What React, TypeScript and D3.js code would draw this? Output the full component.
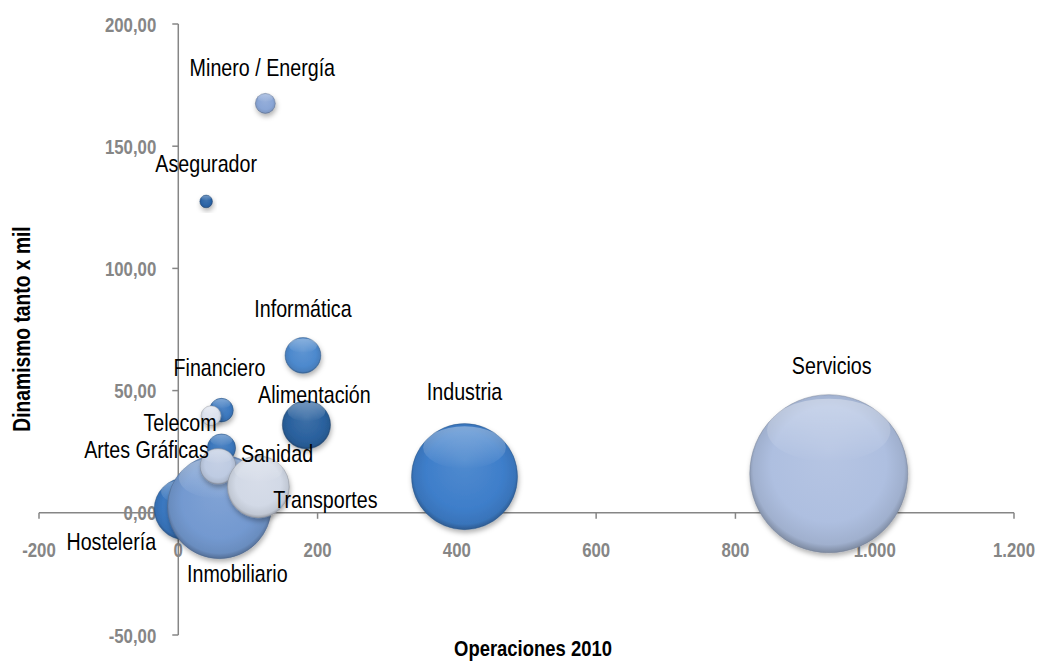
import React from "react";
import * as d3 from "d3";

// ---- data ----
const sectors = [
  "Alimentación",
  "Artes Gráficas",
  "Asegurador",
  "Financiero",
  "Hostelería",
  "Industria",
  "Informática",
  "Inmobiliario",
  "Minero / Energía",
  "Sanidad",
  "Servicios",
  "Telecom",
  "Transportes",
];
const operaciones2010 = [184, 62, 40, 62, 10, 411, 179, 59, 125, 57, 934, 47, 115];
const dinamismo = [36, 26.5, 127.4, 42, 1.6, 14.8, 64.4, 2.5, 167.5, 19, 16, 39.7, 10.6];
const bubbleSize = [58, 20, 4, 14, 96, 281, 32, 270, 10, 32, 624, 10, 96];

const xTicks = [-200, 0, 200, 400, 600, 800, 1000, 1200];
const yTicks = [-50, 0, 50, 100, 150, 200];

// ---- styles / layout ----
const colors = [
  "#2A619E", "#3B77BD", "#2B64A6", "#3C79C0", "#3A78C1", "#3E7ECA", "#4D89CD",
  "#7399D0", "#8AA6D6", "#BECBE2", "#AEBFE0", "#DCE2EE", "#D2D9E6",
];
// label offset (px) from bubble centre to label baseline centre
const labelOffsets: [number, number][] = [
  [8, -22], [-75, 10], [0, -29], [-2, -34], [-74, 41], [0, -77], [0, -38],
  [18, 75], [-3, -27], [59, -4], [3, -100], [-31, 15], [67, 21],
];

const W = 1040;
const H = 666;
const FONT = "'Liberation Sans', Arial, sans-serif";
const NARROW = 0.82;

const locale = d3.formatLocale({
  decimal: ",",
  thousands: ".",
  grouping: [3],
  currency: ["", "€"],
  minus: "-",
});
const fmtX = locale.format(",d");
const fmtY = locale.format(",.2f");

function shade(c: string, k: number) {
  const col = d3.rgb(c);
  if (k >= 0) return d3.interpolateRgb(col, "#ffffff")(k);
  return d3.interpolateRgb(col, "#000000")(-k);
}

export default function App() {
  const x = d3.scaleLinear().domain([-200, 1200]).range([39, 1014]);
  const y = d3.scaleLinear().domain([-50, 200]).range([635, 24]);
  const r = d3.scaleSqrt().domain([0, d3.max(bubbleSize) as number]).range([0, 79]);
  const axisColor = "#868686";

  const x0 = x(0);
  const y0 = y(0);

  return (
    <svg
      width={W}
      height={H}
      style={{ position: "absolute", left: 0, top: 0, display: "block", background: "#fff" }}
      fontFamily={FONT}
    >
      <defs>
        <filter id="shadow" x="-30%" y="-30%" width="160%" height="170%">
          <feDropShadow dx="1" dy="3" stdDeviation="2.5" floodColor="#000" floodOpacity="0.3" />
        </filter>
        {colors.map((c, i) => (
          <radialGradient key={i} id={`g${i}`} cx="50%" cy="48%" r="52%" fx="50%" fy="35%">
            <stop offset="0%" stopColor={shade(c, 0.1)} />
            <stop offset="70%" stopColor={c} />
            <stop offset="92%" stopColor={shade(c, -0.08)} />
            <stop offset="100%" stopColor={shade(c, -0.28)} />
          </radialGradient>
        ))}
        <linearGradient id="hl" x1="0" y1="0" x2="0" y2="1">
          <stop offset="0%" stopColor="#fff" stopOpacity="0.35" />
          <stop offset="100%" stopColor="#fff" stopOpacity="0" />
        </linearGradient>
      </defs>

      {/* axes */}
      <g stroke={axisColor} strokeWidth={1.5} fill="none">
        <line x1={x(-200)} x2={x(1200)} y1={y0} y2={y0} />
        {xTicks.map((t) => (
          <line key={t} x1={x(t)} x2={x(t)} y1={y0} y2={y0 + 6} />
        ))}
        <line x1={x0} x2={x0} y1={y(200)} y2={y(-50)} />
        {yTicks.map((t) => (
          <line key={t} x1={x0 - 6} x2={x0} y1={y(t)} y2={y(t)} />
        ))}
      </g>
      <g fill={axisColor} fontWeight="bold" fontSize={20.5}>
        {xTicks.map((t) => (
          <g key={t} transform={`translate(${x(t)},${y0 + 44}) scale(${NARROW},1)`}>
            <text textAnchor="middle">{fmtX(t)}</text>
          </g>
        ))}
        {yTicks.map((t) => (
          <g key={t} transform={`translate(${x0 - 22},${y(t) + 7.5}) scale(${NARROW},1)`}>
            <text textAnchor="end">{fmtY(t)}</text>
          </g>
        ))}
      </g>

      {/* bubbles */}
      {sectors.map((s, i) => {
        const cx = x(operaciones2010[i]);
        const cy = y(dinamismo[i]);
        const rr = r(bubbleSize[i]);
        return (
          <g key={s}>
            <circle cx={cx} cy={cy} r={rr} fill={`url(#g${i})`} filter="url(#shadow)"
              stroke={shade(colors[i], -0.35)} strokeOpacity={0.45} strokeWidth={1} />
            <ellipse cx={cx} cy={cy - rr * 0.55} rx={rr * 0.78} ry={rr * 0.4} fill="url(#hl)" />
          </g>
        );
      })}

      {/* data labels */}
      <g fill="#000" fontSize={24}>
        {sectors.map((s, i) => {
          const cx = x(operaciones2010[i]) + labelOffsets[i][0];
          const cy = y(dinamismo[i]) + labelOffsets[i][1];
          return (
            <g key={s} transform={`translate(${cx},${cy}) scale(${NARROW},1)`}>
              <text textAnchor="middle">{s}</text>
            </g>
          );
        })}
      </g>

      {/* axis titles */}
      <g fill="#000" fontWeight="bold">
        <g transform={`translate(533,656) scale(${NARROW},1)`}>
          <text textAnchor="middle" fontSize={22.5}>Operaciones 2010</text>
        </g>
        <g transform={`translate(30,329) rotate(-90) scale(${NARROW},1)`}>
          <text textAnchor="middle" fontSize={23.5}>Dinamismo tanto x mil</text>
        </g>
      </g>
    </svg>
  );
}
